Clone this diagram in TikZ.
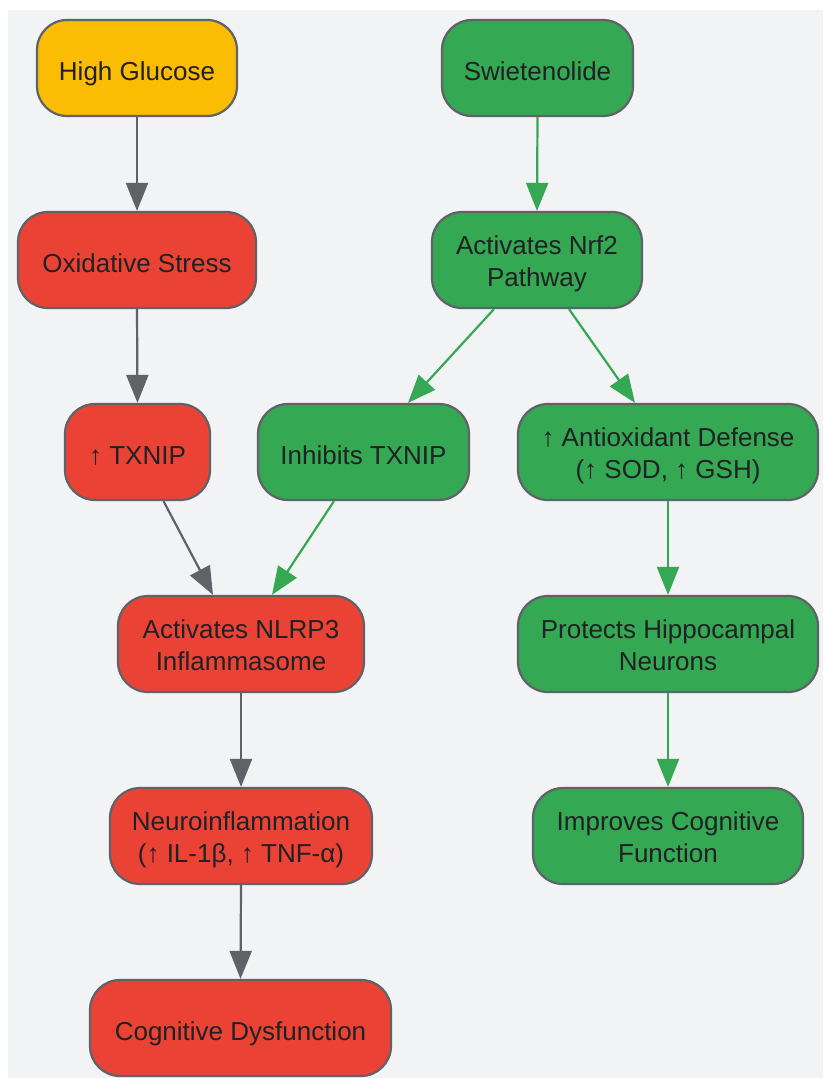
\documentclass[tikz,border=0pt]{standalone}
\usepackage{fontspec}
\setmainfont{Liberation Sans}
\usetikzlibrary{arrows.meta,calc}
\definecolor{bg}{HTML}{F1F3F5}
\definecolor{bord}{HTML}{5F6368}
\definecolor{gy}{HTML}{FBBC04}
\definecolor{rd}{HTML}{EA4335}
\definecolor{gn}{HTML}{34A853}
\definecolor{txt}{HTML}{202124}
\newcommand{\boxstrut}{\rule[-5.5pt]{0pt}{35.5pt}}
\newcommand{\twostrut}{\rule{0pt}{27pt}}
\tikzset{
  box/.style={draw=bord, line width=2.2pt, rounded corners=30pt, minimum height=96pt,
    align=center, text=txt, font=\fontsize{26}{32}\selectfont, inner sep=0pt,
    execute at begin node=\boxstrut, execute at end node=\boxstrut},
  ybox/.style={box, fill=gy},
  rbox/.style={box, fill=rd},
  gbox/.style={box, fill=gn},
  garr/.style={draw=bord, line width=2.2pt, -{Triangle[length=28pt,width=22pt]}},
  narr/.style={draw=gn, line width=2.2pt, -{Triangle[length=28pt,width=22pt]}},
}
\begin{document}
\begin{tikzpicture}[x=1pt,y=-1pt]
\useasboundingbox (0,0) rectangle (823,1078);
\fill[bg] (8,10) rectangle (823,1078);

\node[ybox, minimum width=200pt] (hg) at (137,68) {High Glucose};
\node[gbox, minimum width=191pt] (sw) at (537.5,68) {Swietenolide};
\node[rbox, minimum width=238pt] (ox) at (137,260) {Oxidative Stress};
\node[gbox, minimum width=210pt] (nrf) at (537,260) {\twostrut Activates Nrf2\\Pathway};
\node[rbox, minimum width=145pt] (tx) at (137.5,452) {↑ TXNIP};
\node[gbox, minimum width=211pt] (inh) at (363.5,452) {Inhibits TXNIP};
\node[gbox, minimum width=300pt] (ao) at (668,452) {\twostrut ↑ Antioxidant Defense\\(↑ SOD, ↑ GSH)};
\node[rbox, minimum width=246pt] (nl) at (241,644) {\twostrut Activates NLRP3\\Inflammasome};
\node[gbox, minimum width=300pt] (ph) at (668,644) {\twostrut Protects Hippocampal\\Neurons};
\node[rbox, minimum width=262pt] (ni) at (241,836) {\twostrut Neuroinflammation\\(↑ IL-1β, ↑ TNF-α)};
\node[gbox, minimum width=270pt] (ic) at (668,836) {\twostrut Improves Cognitive\\Function};
\node[rbox, minimum width=301pt] (cd) at (240.5,1028) {Cognitive Dysfunction};

\draw[garr] (hg.south) -- (ox.north);
\draw[garr] (ox.south) -- (tx.north);
\draw[garr] ([xshift=26pt]tx.south) -- ([xshift=-28pt]nl.north);
\draw[garr] (nl.south) -- (ni.north);
\draw[garr] (ni.south) -- (cd.north);

\draw[narr] (sw.south) -- (nrf.north);
\draw[narr] ([xshift=-43pt]nrf.south) -- ([xshift=44.5pt]inh.north);
\draw[narr] ([xshift=32pt]nrf.south) -- ([xshift=-33pt]ao.north);
\draw[narr] ([xshift=-29.5pt]inh.south) -- ([xshift=31pt]nl.north);
\draw[narr] (ao.south) -- (ph.north);
\draw[narr] (ph.south) -- (ic.north);
\end{tikzpicture}
\end{document}
